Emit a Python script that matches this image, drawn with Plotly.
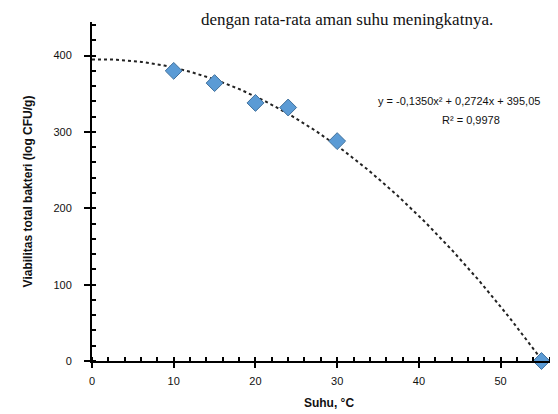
import numpy as np
import plotly.graph_objects as go

# Data
suhu = [10, 15, 20, 24, 30, 55]
nilai = [380, 364, 338, 332, 288, 0]
start_x, start_y = 0, 400

x_ticks = [0, 10, 20, 30, 40, 50]
y_ticks = [0, 100, 200, 300, 400]

# quadratic trendline (as in the spreadsheet chart)
fx = [start_x] + suhu
fy = [start_y] + nilai
coef = np.polyfit(fx, fy, 2)
xf = np.linspace(0, 55, 200)
yf = np.polyval(coef, xf)
pred = np.polyval(coef, fx)
ss_res = np.sum((np.array(fy) - pred) ** 2)
ss_tot = np.sum((np.array(fy) - np.mean(fy)) ** 2)
r2 = 1 - ss_res / ss_tot

def fmt(v):
    return f"{abs(v):.4f}".replace(".", ",")

eq = (f"y = -{fmt(coef[0])}x² {'-' if coef[1] < 0 else '+'} {fmt(coef[1])}x + {coef[2]:.2f}".replace(".", ","))
r2txt = f"R² = {r2:.4f}".replace(".", ",")

fig = go.Figure()
fig.add_trace(go.Scatter(x=xf, y=yf, mode="lines",
                         line=dict(color="#222222", width=2, dash="dot"),
                         hoverinfo="skip", showlegend=False))
fig.add_trace(go.Scatter(x=suhu, y=nilai, mode="markers",
                         marker=dict(symbol="diamond", size=13, color="#5B9BD5",
                                     line=dict(color="#41719C", width=1)),
                         showlegend=False, cliponaxis=False))

fig.update_layout(
    width=558, height=414,
    margin=dict(l=84, r=0, t=14, b=61),
    paper_bgcolor="white", plot_bgcolor="white",
    font=dict(family="Liberation Sans, Arial", color="#111111"),
    xaxis=dict(range=[0, 58], tickvals=x_ticks, showgrid=False, zeroline=False,
               showline=True, linecolor="black", linewidth=2,
               ticks="outside", ticklen=5, tickwidth=2, tickcolor="black",
               tickfont=dict(size=11), ticklabelstandoff=4,
               minor=dict(dtick=2, ticks="inside", ticklen=4, tickwidth=1.5, tickcolor="black"),
               title=dict(text="<b>Suhu, °C</b>", font=dict(size=12), standoff=12)),
    yaxis=dict(range=[0, 444], tickvals=y_ticks, showgrid=False, zeroline=False,
               showline=True, linecolor="black", linewidth=2,
               ticks="outside", ticklen=6, tickwidth=2, tickcolor="black",
               tickfont=dict(size=11), ticklabelstandoff=10,
               minor=dict(dtick=20, ticks="inside", ticklen=4, tickwidth=1.5, tickcolor="black"),
               title=dict(text="<b>Viabilitas total bakteri (log CFU/g)</b>", font=dict(size=12), standoff=18)),
    annotations=[
        dict(text=eq, xref="paper", yref="paper", x=(368 - 84) / 474, y=(353 - 93) / 339,
             xanchor="left", yanchor="middle", showarrow=False, font=dict(size=11)),
        dict(text=r2txt, xref="paper", yref="paper", x=(463 - 84) / 474, y=(353 - 112) / 339,
             xanchor="center", yanchor="middle", showarrow=False, font=dict(size=11)),
        dict(text="dengan rata-rata aman suhu meningkatnya.", xref="paper", yref="paper",
             x=(487 - 84) / 474, y=353 / 339, xanchor="right", yanchor="top",
             showarrow=False, font=dict(family="Liberation Serif, Times New Roman", size=17)),
    ],
)

fig.write_html("out.html")
